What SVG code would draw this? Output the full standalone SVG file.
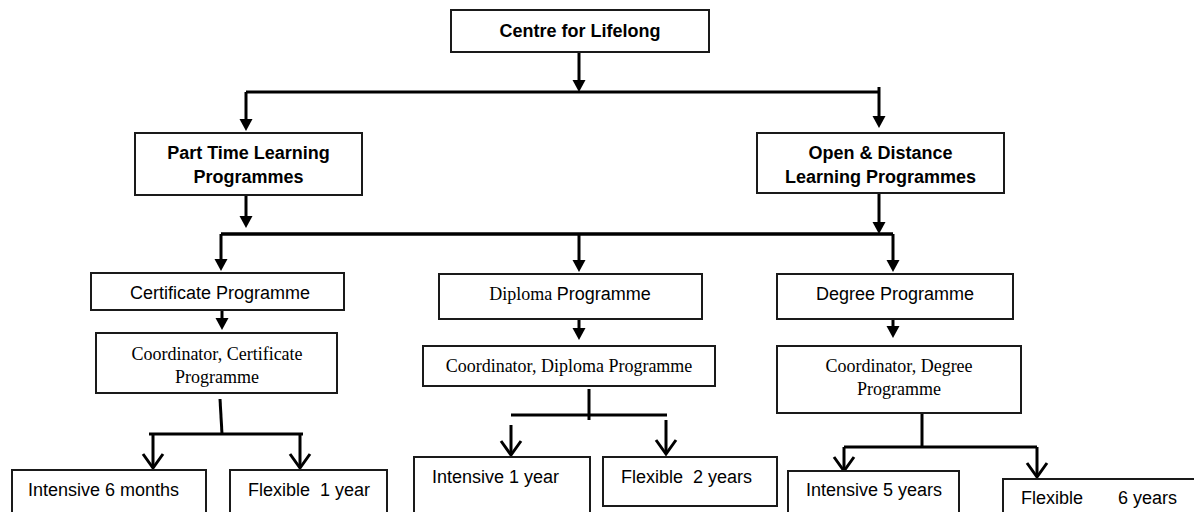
<svg xmlns="http://www.w3.org/2000/svg" width="1194" height="512" viewBox="0 0 1194 512">
<style>
.box{fill:#fff;stroke:#1a1a1a;stroke-width:2}
.b{font-family:"Liberation Sans",Arial,sans-serif;font-size:18px;font-weight:bold;fill:#000;text-anchor:middle}
.s{font-family:"Liberation Sans",Arial,sans-serif;font-size:18px;fill:#000}
.t{font-family:"Liberation Serif","Times New Roman",serif;font-size:18px;fill:#000}
.m{text-anchor:middle}
.c{fill:none;stroke:#000;stroke-width:3}
.f{marker-end:url(#fa)}
.v{marker-end:url(#va)}
</style>
<defs>
<marker id="fa" markerUnits="userSpaceOnUse" markerWidth="12" markerHeight="13" viewBox="0 0 12 13" refX="2" refY="6.5" orient="auto" overflow="visible">
<path d="M0,0 L12,6.5 L0,13 Z" fill="#000"/>
</marker>
<marker id="va" markerUnits="userSpaceOnUse" markerWidth="16" markerHeight="22" viewBox="0 0 16 22" refX="15" refY="11" orient="auto" overflow="visible">
<path d="M1,1 L15,11 L1,21" fill="none" stroke="#000" stroke-width="3"/>
</marker>
</defs>
<g id="connectors">
<path class="c f" d="M579,52 V82"/>
<path class="c" d="M246,92 H879"/>
<path class="c f" d="M246,92 V121"/>
<path class="c f" d="M879,87 V118"/>
<path class="c f" d="M246,195 V218"/>
<path class="c f" d="M879,193 V224"/>
<path class="c" d="M221,234 H893" style="stroke-width:3.5"/>
<path class="c f" d="M221,234 V261"/>
<path class="c f" d="M579,234 V262"/>
<path class="c f" d="M893,234 V262"/>
<path class="c f" d="M222,310 V320"/>
<path class="c f" d="M579,319 V330"/>
<path class="c f" d="M893,319 V328"/>
<path class="c" d="M220,399 L222,434"/>
<path class="c" d="M149,434 H303"/>
<path class="c v" d="M153,434 V468"/>
<path class="c v" d="M300,434 V468"/>
<path class="c" d="M589,389 V420"/>
<path class="c" d="M511,415 H667"/>
<path class="c v" d="M511,425 V455"/>
<path class="c v" d="M666,420 V454"/>
<path class="c" d="M922,413 V447"/>
<path class="c" d="M844,447 H1037"/>
<path class="c v" d="M844,447 V471"/>
<path class="c v" d="M1037,447 V477"/>
</g>
<g id="n-centre"><rect class="box" x="451" y="10" width="258" height="42"/><text class="b" x="580" y="37">Centre for Lifelong</text></g>
<g id="n-parttime"><rect class="box" x="135" y="133" width="227" height="62"/><text class="b" x="248.5" y="159">Part Time Learning</text><text class="b" x="248.5" y="183">Programmes</text></g>
<g id="n-open"><rect class="box" x="757" y="133" width="247" height="60"/><text class="b" x="880.5" y="159">Open &amp; Distance</text><text class="b" x="880.5" y="183">Learning Programmes</text></g>
<g id="n-cert"><rect class="box" x="91" y="273" width="253" height="37"/><text class="s m" x="220" y="299">Certificate Programme</text></g>
<g id="n-diploma"><rect class="box" x="439" y="274" width="263" height="45"/><text class="s m" x="570" y="300"><tspan class="t">Diploma </tspan>Programme</text></g>
<g id="n-degree"><rect class="box" x="777" y="274" width="236" height="45"/><text class="s m" x="895" y="300">Degree Programme</text></g>
<g id="n-coord-cert"><rect class="box" x="96" y="333" width="241" height="60"/><text class="t m" x="217" y="360">Coordinator, Certificate</text><text class="t m" x="217" y="383">Programme</text></g>
<g id="n-coord-diploma"><rect class="box" x="423" y="346" width="292" height="40"/><text class="t m" x="569" y="372">Coordinator, Diploma Programme</text></g>
<g id="n-coord-degree"><rect class="box" x="777" y="346" width="244" height="67"/><text class="t m" x="899" y="372">Coordinator, Degree</text><text class="t m" x="899" y="395">Programme</text></g>
<g id="n-int6m"><rect class="box" x="12" y="470" width="194" height="60"/><text class="s" x="28" y="496">Intensive 6 months</text></g>
<g id="n-flex1y"><rect class="box" x="230" y="470" width="157" height="60"/><text class="s" x="248" y="496" xml:space="preserve">Flexible  1 year</text></g>
<g id="n-int1y"><rect class="box" x="414" y="457" width="176" height="70"/><text class="s" x="432" y="483">Intensive 1 year</text></g>
<g id="n-flex2y"><rect class="box" x="603" y="457" width="174" height="49"/><text class="s" x="621" y="483" xml:space="preserve">Flexible  2 years</text></g>
<g id="n-int5y"><rect class="box" x="788" y="471" width="171" height="60"/><text class="s" x="806" y="496">Intensive 5 years</text></g>
<g id="n-flex6y"><rect class="box" x="1003" y="479" width="200" height="60"/><text class="s" y="504"><tspan x="1021">Flexible</tspan><tspan x="1118">6 years</tspan></text></g>
</svg>
